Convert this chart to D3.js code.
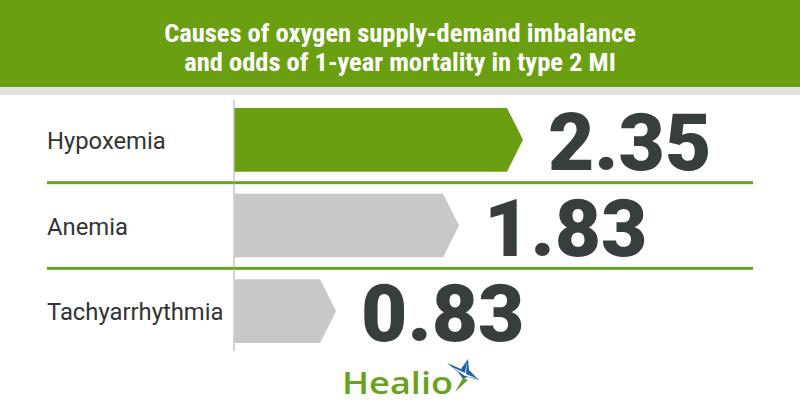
<!DOCTYPE html>
<html><head><meta charset="utf-8">
<script src="https://cdn.jsdelivr.net/npm/d3@7"></script>
<style>
html,body{margin:0;padding:0;background:#fff;}
svg{display:block;}
</style></head>
<body>
<svg id="chart" width="800" height="420"></svg>
<script>
const titleLines = ["Causes of oxygen supply-demand imbalance", "and odds of 1-year mortality in type 2 MI"];
const categories = ["Hypoxemia", "Anemia", "Tachyarrhythmia"];
const values = [2.35, 1.83, 0.83];
const valueLabels = ["2.35", "1.83", "0.83"];
const barColors = ["#6a9f12", "#c8c8c8", "#c8c8c8"];

const svg = d3.select("#chart");
const W = 800, H = 420;

// header
svg.append("rect").attr("x",0).attr("y",0).attr("width",W).attr("height",87).attr("fill","#6a9f12");
svg.append("rect").attr("x",0).attr("y",87).attr("width",W).attr("height",8).attr("fill","#e3e3e3");
svg.selectAll("text.title").data(titleLines).enter().append("text")
  .attr("class","title")
  .attr("x",400).attr("y",(d,i)=>42+i*29)
  .attr("text-anchor","middle")
  .attr("fill","#ffffff")
  .style("font-family","'Liberation Sans Narrow','Roboto Condensed','Roboto',sans-serif")
  .style("font-weight","700")
  .style("font-size","26.5px")
  .text(d=>d);

// scales
const x0 = 234;
const x = d3.scaleLinear().domain([0, 2.35]).range([x0, 523]);
const y = d3.scaleBand().domain(categories).range([97, 354]).paddingInner(0.256).paddingOuter(0.128);

// separators
categories.slice(0,-1).forEach((c,i)=>{
  const yy = (y(categories[i]) + y.bandwidth() + y(categories[i+1]))/2;
  svg.append("rect").attr("x",47).attr("y",yy-1.5).attr("width",706).attr("height",3).attr("fill","#6aa121");
});

// axis line
svg.append("line").attr("x1",x0).attr("x2",x0).attr("y1",100).attr("y2",351)
  .attr("stroke","#a8a8a8").attr("stroke-width",1);

const tip = 16;
const g = svg.append("g");
g.selectAll("path.bar").data(values).enter().append("path")
  .attr("class","bar")
  .attr("fill",(d,i)=>barColors[i])
  .attr("d",(d,i)=>{
    const top = y(categories[i]), h = y.bandwidth(), xe = x(d), xl = x0+0.5;
    return `M${xl},${top}L${xe-tip},${top}L${xe},${top+h/2}L${xe-tip},${top+h}L${xl},${top+h}Z`;
  });

g.selectAll("text.val").data(values).enter().append("text")
  .attr("class","val")
  .attr("x",(d)=>x(d)+25)
  .attr("y",(d,i)=>y(categories[i])+y.bandwidth()/2+30)
  .attr("fill","#383d3e")
  .style("font-family","Roboto, 'Liberation Sans', sans-serif")
  .style("font-weight","900")
  .style("font-size","80px")
  .text((d,i)=>valueLabels[i]);

g.selectAll("text.cat").data(categories).enter().append("text")
  .attr("class","cat")
  .attr("x",47)
  .attr("y",(d)=>y(d)+y.bandwidth()/2+9)
  .attr("fill","#333333")
  .style("font-family","Roboto, 'Liberation Sans', sans-serif")
  .style("font-size","23.8px")
  .text(d=>d);

// Healio logo
const logo = svg.append("g");
logo.append("text").attr("x",342).attr("y",394)
  .attr("fill","#6aa121")
  .attr("textLength",111).attr("lengthAdjust","spacingAndGlyphs")
  .style("font-family","'Open Sans', Lato, sans-serif")
  .style("font-weight","600")
  .style("font-size","31px")
  .text("Healio");
// star
const sx = 464, sy = 375;
logo.append("path").attr("fill","#1f64a6")
  .attr("d",`M${sx-17},${sy-12}L${sx-3},${sy-6}L${sx+4},${sy-16}L${sx+5},${sy-5}L${sx+15},${sy+5}L${sx+4},${sy+2}L${sx-1},${sy+4}L${sx-6},${sy-3}Z`);
logo.append("path").attr("fill","#6aa121")
  .attr("d",`M${sx-1},${sy+3}L${sx-9},${sy+17}L${sx+4},${sy+5}Z`);
logo.append("path").attr("fill","#ffffff")
  .attr("d",`M${sx+3},${sy-14}L${sx+2},${sy-1}L${sx+14},${sy+4}L${sx+1},${sy+1}L${sx-12},${sy-8}L${sx+1},${sy-2}Z`);
</script>
</body></html>
